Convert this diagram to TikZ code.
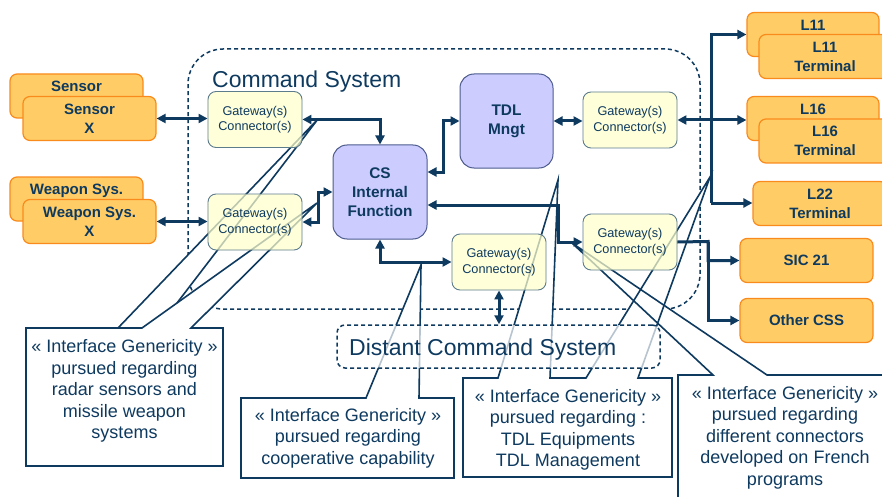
\documentclass[tikz,border=0pt]{standalone}
\usepackage{fontspec}
\setmainfont{Liberation Sans}
\usetikzlibrary{arrows.meta,calc}
\definecolor{navy}{HTML}{0E3A60}
\definecolor{orgfill}{HTML}{FFCC66}
\definecolor{orgline}{HTML}{F98A1C}
\definecolor{gwfill}{HTML}{FFFFCC}
\definecolor{gwline}{HTML}{5C7C8C}
\definecolor{purfill}{HTML}{CCCCFF}
\definecolor{purline}{HTML}{4D5B8C}
\begin{document}
\begin{tikzpicture}[x=1pt,y=-1pt,
  >={Triangle[length=9pt,width=9pt]},
  obox/.style={draw=orgline, fill=orgfill, line width=1.2pt, rounded corners=7pt,
    minimum width=133pt, minimum height=44pt, inner sep=0pt, align=center,
    text=navy, font=\fontsize{15}{19}\selectfont\bfseries},
  gwbox/.style={draw=gwline, fill=gwfill, fill opacity=0.72, text opacity=1,
    line width=0.9pt, rounded corners=8pt, minimum width=94pt, minimum height=56pt,
    inner sep=0pt, align=center, text=navy, font=\fontsize{12.7}{15.5}\selectfont},
  pbox/.style={draw=purline, fill=purfill, line width=1pt, rounded corners=14pt,
    minimum width=94pt, minimum height=94pt, inner sep=0pt, align=center,
    text=navy, font=\fontsize{15.4}{19}\selectfont\bfseries},
  conn/.style={draw=navy, line width=3pt},
  frame/.style={draw=navy, line width=1.5pt, dash pattern=on 4pt off 3pt},
  callfill/.style={fill=white},
  callline/.style={draw=navy, line width=1.6pt, line join=miter},
  calltext/.style={align=center, text=navy, inner sep=0pt,
    font=\fontsize{18}{21.5}\selectfont},
  bigtext/.style={text=navy, inner sep=0pt, anchor=west,
    font=\fontsize{23}{27}\selectfont}
]
\path[use as bounding box, clip] (0,0) rectangle (882,497);

% Command System frame
\node[frame, rounded corners=35pt, minimum width=512pt, minimum height=260pt] (csys) at (444,179) {};
\node[bigtext] (csysT) at (212,82) {Command System};

% callout bodies (white)
\fill[callfill] (26,328) rectangle (223,466);
\fill[callfill] (118,328) -- (318,119) -- (158,328) -- cycle;
\fill[callfill] (142,328) -- (317,203) -- (191,328) -- cycle;
\fill[callfill] (241,398) rectangle (454,478);
\fill[callfill] (366,398) -- (421,265) -- (419,398) -- cycle;
\fill[callfill] (463,378) -- (498,378) -- (558,180) -- (550,378) -- (586,378) -- (710,177)
  -- (638,378) -- (672,378) -- (672,477) -- (463,477) -- cycle;
\fill[callfill] (678,520) -- (678,375) -- (713,375) -- (572,243) -- (767,375) -- (900,375)
  -- (900,520) -- cycle;

% callout outlines
\draw[callline] (142,328) -- (26,328) -- (26,466) -- (223,466) -- (223,328) -- (191,328)
  -- (317,203) -- cycle;
\draw[callline] (118,328) -- (318,119) -- (177,303);
\draw[callline] (366,398) -- (241,398) -- (241,478) -- (454,478) -- (454,398) -- (419,398)
  -- (421,265) -- cycle;
\draw[callline] (463,378) -- (498,378) -- (558,180) -- (550,378) -- (586,378) -- (710,177)
  -- (638,378) -- (672,378) -- (672,477) -- (463,477) -- cycle;
\draw[callline] (678,520) -- (678,375) -- (713,375) -- (572,243) -- (767,375) -- (900,375);

% callout texts
\node[calltext] (note1) at (124.5,391) {« Interface Genericity »\\pursued regarding\\radar sensors and\\missile weapon\\systems};
\node[calltext] (note2) at (348,438) {« Interface Genericity »\\pursued regarding\\cooperative capability};
\node[calltext] (note3) at (568,430) {« Interface Genericity »\\pursued regarding :\\TDL Equipments\\TDL Management};
\node[calltext] (note4) at (785,437.5) {« Interface Genericity »\\pursued regarding\\different connectors\\developed on French\\programs};

% functions and gateways
\node[pbox] (cs) at (380,192) {CS\\Internal\\Function};
\node[pbox, minimum width=93pt] (tdl) at (506.5,121) {TDL\\Mngt};
\node[gwbox] (gw1) at (255,119.5) {Gateway(s)\\Connector(s)};
\node[gwbox] (gw2) at (255,222) {Gateway(s)\\Connector(s)};
\node[gwbox] (gw3) at (630,120) {Gateway(s)\\Connector(s)};
\node[gwbox] (gw4) at (499,262) {Gateway(s)\\Connector(s)};
\node[gwbox] (gw5) at (630,242) {Gateway(s)\\Connector(s)};

% external equipments
\node[obox] (sensB) at (76.5,96) {Sensor\\\phantom{X}};
\node[obox] (sensF) at (89.5,118.5) {Sensor\\X};
\node[obox] (weapB) at (76.5,199) {Weapon Sys.\\\phantom{X}};
\node[obox] (weapF) at (89.5,221.5) {Weapon Sys.\\X};
\node[obox, minimum width=132pt] (l11b) at (813,34.5) {L11\\\phantom{T}};
\node[obox, minimum width=132pt] (l11f) at (825,56.5) {L11\\Terminal};
\node[obox, minimum width=132pt] (l16b) at (813,118.5) {L16\\\phantom{T}};
\node[obox, minimum width=132pt] (l16f) at (825,141) {L16\\Terminal};
\node[obox, minimum width=134pt] (l22) at (820,203.5) {L22\\Terminal};
\node[obox] (sic) at (806.5,260.5) {SIC 21};
\node[obox] (oth) at (806.5,320.5) {Other CSS};

% distant system
\node[frame, fill=white, fill opacity=0.7, rounded corners=8pt, minimum width=323pt,
  minimum height=43pt] (dcs) at (498.5,346.5) {};
\node[bigtext] (dcsT) at (349,350) {Distant Command System};

% links
\coordinate (busB) at (711,203);
\coordinate (sicJ) at (708,241.5);
\draw[conn,<->] (sensF.east) -- (sensF.east -| gw1.west);
\draw[conn,<->] (weapF.east) -- (weapF.east -| gw2.west);
\draw[conn,<->] (gw1.east) -| (cs.north);
\draw[conn,<->] (gw2.east) -- ++(16,0) |- (cs.west);
\draw[conn,<->] ($(cs.east)+(0,-20)$) -- ++(16,0) |- (tdl.west);
\draw[conn,<->] (tdl.east) -- (tdl.east -| gw3.west);
\draw[conn,<->] ($(cs.east)+(0,13)$) -| ($(gw5.west)+(-24,0)$) -- (gw5.west);
\draw[conn,<->] (cs.south) |- (gw4.west);
\draw[conn,<->] (gw4.south) -- (gw4.south |- dcs.north);
\draw[conn,<->] (gw3.east) -- (gw3.east -| l16b.west);
\draw[conn,->] (busB) |- (l11b.west);
\draw[conn,->] (busB) -- (busB -| l22.west);
\draw[conn,->] (gw5.east) -- (sicJ) |- (sic.west);
\draw[conn,->] (sicJ) |- (oth.west);
\end{tikzpicture}
\end{document}
